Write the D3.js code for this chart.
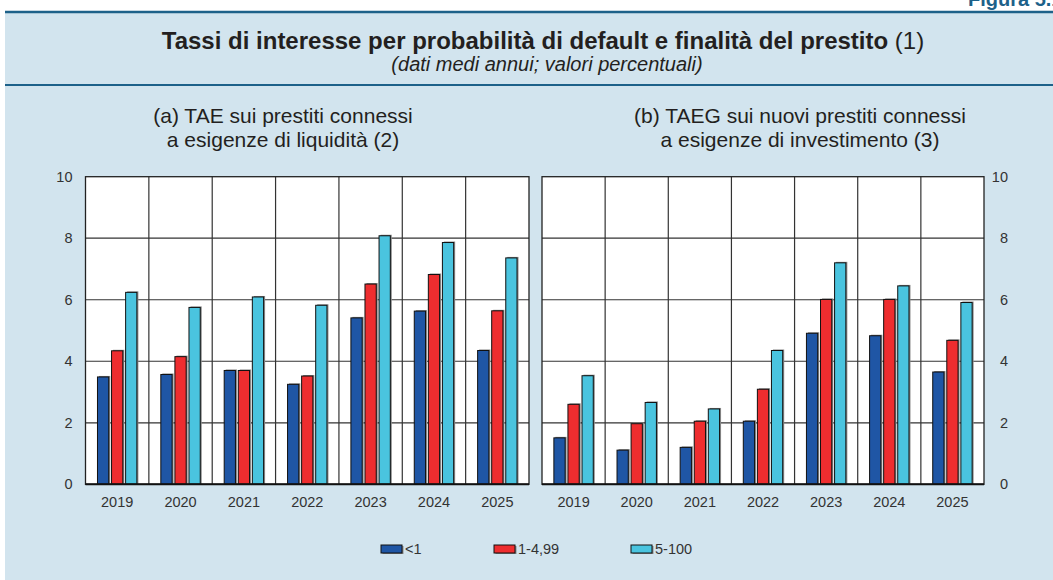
<!DOCTYPE html>
<html>
<head>
<meta charset="utf-8">
<script src="https://cdn.jsdelivr.net/npm/d3@7"></script>
<style>
  body { margin: 0; background: #fff; }
  svg { display: block; font-family: "Liberation Sans", Arial, sans-serif; }
</style>
</head>
<body>
<div id="chart"></div>
<script>
// data
const years = ['2019', '2020', '2021', '2022', '2023', '2024', '2025'];
const series = ['<1', '1-4,99', '5-100'];
const colors = ['#1f56a5', '#ee2d2f', '#4ac4df'];
const yTicks = [0, 2, 4, 6, 8, 10];

// (a) TAE, liquidity loans
const liqLow = [3.49, 3.57, 3.70, 3.25, 5.41, 5.63, 4.35];
const liqMid = [4.34, 4.15, 3.70, 3.52, 6.51, 6.82, 5.64];
const liqHigh = [6.24, 5.75, 6.09, 5.82, 8.08, 7.86, 7.36];

// (b) TAEG, investment loans
const invLow = [1.51, 1.11, 1.20, 2.05, 4.91, 4.83, 3.65];
const invMid = [2.60, 1.97, 2.05, 3.09, 6.01, 6.01, 4.68];
const invHigh = [3.53, 2.66, 2.45, 4.35, 7.20, 6.45, 5.91];

const width = 1053, height = 580;
const lineCol = '#1d6189';
const txt = '#231f20';

const svg = d3.select('#chart').append('svg')
  .attr('width', width).attr('height', height);

// background panel
svg.append('rect').attr('x', 5).attr('y', 12).attr('width', width - 5).attr('height', height - 12)
  .attr('fill', '#d2e4ee');
svg.append('line').attr('x1', 5).attr('x2', width).attr('y1', 12).attr('y2', 12)
  .attr('stroke', lineCol).attr('stroke-width', 2.5);
svg.append('line').attr('x1', 5).attr('x2', width).attr('y1', 85).attr('y2', 85)
  .attr('stroke', lineCol).attr('stroke-width', 2);

svg.append('text').attr('x', 968).attr('y', 6)
  .attr('fill', lineCol).style('font-weight', 'bold').style('font-size', '20px')
  .text('Figura 5.1');

// titles
const title = svg.append('text').attr('x', 543).attr('y', 49)
  .attr('text-anchor', 'middle').attr('fill', txt).style('font-size', '24px');
title.append('tspan').style('font-weight', 'bold')
  .text('Tassi di interesse per probabilità di default e finalità del prestito');
title.append('tspan').text(' (1)');

svg.append('text').attr('x', 547).attr('y', 71)
  .attr('text-anchor', 'middle').attr('fill', txt)
  .style('font-size', '20px').style('font-style', 'italic')
  .text('(dati medi annui; valori percentuali)');

const y = d3.scaleLinear().domain([0, 10]).range([484.3, 176.7]);

function panel(x0, x1, titleX, lines, data, axisSide) {
  const g = svg.append('g');

  lines.forEach((t, i) => {
    g.append('text').attr('x', titleX).attr('y', 123 + i * 24)
      .attr('text-anchor', 'middle').attr('fill', txt)
      .style('font-size', '21px').text(t);
  });

  g.append('rect').attr('x', x0).attr('y', y(10))
    .attr('width', x1 - x0).attr('height', y(0) - y(10)).attr('fill', '#fff');

  const x = d3.scaleBand().domain(years).range([x0, x1]).padding(0);
  const xs = d3.scaleBand().domain(series).range([-19.7, 19.7]).paddingInner(0.2);

  // grid
  g.selectAll('.hg').data(yTicks.slice(1, -1)).enter().append('line')
    .attr('x1', x0).attr('x2', x1).attr('y1', d => y(d)).attr('y2', d => y(d))
    .attr('stroke', '#333').attr('stroke-width', 1.2);
  g.selectAll('.vg').data(years.slice(1)).enter().append('line')
    .attr('x1', d => x(d)).attr('x2', d => x(d)).attr('y1', y(10)).attr('y2', y(0))
    .attr('stroke', '#333').attr('stroke-width', 1.2);

  // bars, with a grey drop shadow
  series.forEach((s, si) => {
    const vals = data[si];
    const bx = (d, i) => x(years[i]) + x.bandwidth() / 2 + xs(s);
    g.selectAll('.sh' + si).data(vals).enter().append('rect')
      .attr('x', (d, i) => bx(d, i) + 1.5).attr('y', d => y(d) - 1)
      .attr('width', xs.bandwidth()).attr('height', d => y(0) - y(d) + 1)
      .attr('fill', '#8a8a8a');
    g.selectAll('.b' + si).data(vals).enter().append('rect')
      .attr('x', bx).attr('y', d => y(d))
      .attr('width', xs.bandwidth()).attr('height', d => y(0) - y(d))
      .attr('fill', colors[si]).attr('stroke', '#111').attr('stroke-width', 1);
  });

  // frame
  g.append('rect').attr('x', x0).attr('y', y(10))
    .attr('width', x1 - x0).attr('height', y(0) - y(10))
    .attr('fill', 'none').attr('stroke', '#222').attr('stroke-width', 1.3);
  g.append('line').attr('x1', x0).attr('x2', x1).attr('y1', y(0)).attr('y2', y(0))
    .attr('stroke', '#111').attr('stroke-width', 2);

  // axes (labels right-aligned on both sides)
  const yAxis = axisSide === 'left'
    ? d3.axisLeft(y).tickValues(yTicks).tickSize(0).tickPadding(13)
    : d3.axisRight(y).tickValues(yTicks).tickSize(0).tickPadding(24);
  const ya = g.append('g')
    .attr('transform', `translate(${axisSide === 'left' ? x0 : x1},0)`)
    .call(yAxis);
  ya.select('.domain').remove();
  ya.selectAll('text').attr('fill', '#333').attr('text-anchor', 'end')
    .style('font-size', '14.5px')
    .style('font-family', '"Liberation Sans", Arial, sans-serif');

  const xa = g.append('g').attr('transform', `translate(0,${y(0)})`)
    .call(d3.axisBottom(x).tickSize(0).tickPadding(12.5));
  xa.select('.domain').remove();
  xa.selectAll('text').attr('fill', '#333').style('font-size', '14.5px')
    .style('font-family', '"Liberation Sans", Arial, sans-serif');
}

panel(85.5, 529, 283, ['(a) TAE sui prestiti connessi', 'a esigenze di liquidità (2)'],
  [liqLow, liqMid, liqHigh], 'left');
panel(542, 984, 800, ['(b) TAEG sui nuovi prestiti connessi', 'a esigenze di investimento (3)'],
  [invLow, invMid, invHigh], 'right');

// legend
const legendX = [381, 494, 631];
const lg = svg.append('g');
series.forEach((s, i) => {
  lg.append('rect').attr('x', legendX[i] + 1.5).attr('y', 546)
    .attr('width', 21).attr('height', 8).attr('fill', '#8a8a8a');
  lg.append('rect').attr('x', legendX[i]).attr('y', 545)
    .attr('width', 21).attr('height', 8)
    .attr('fill', colors[i]).attr('stroke', '#111').attr('stroke-width', 1);
  lg.append('text').attr('x', legendX[i] + 24).attr('y', 554)
    .attr('fill', '#333').style('font-size', '14.5px').text(s);
});
</script>
</body>
</html>
